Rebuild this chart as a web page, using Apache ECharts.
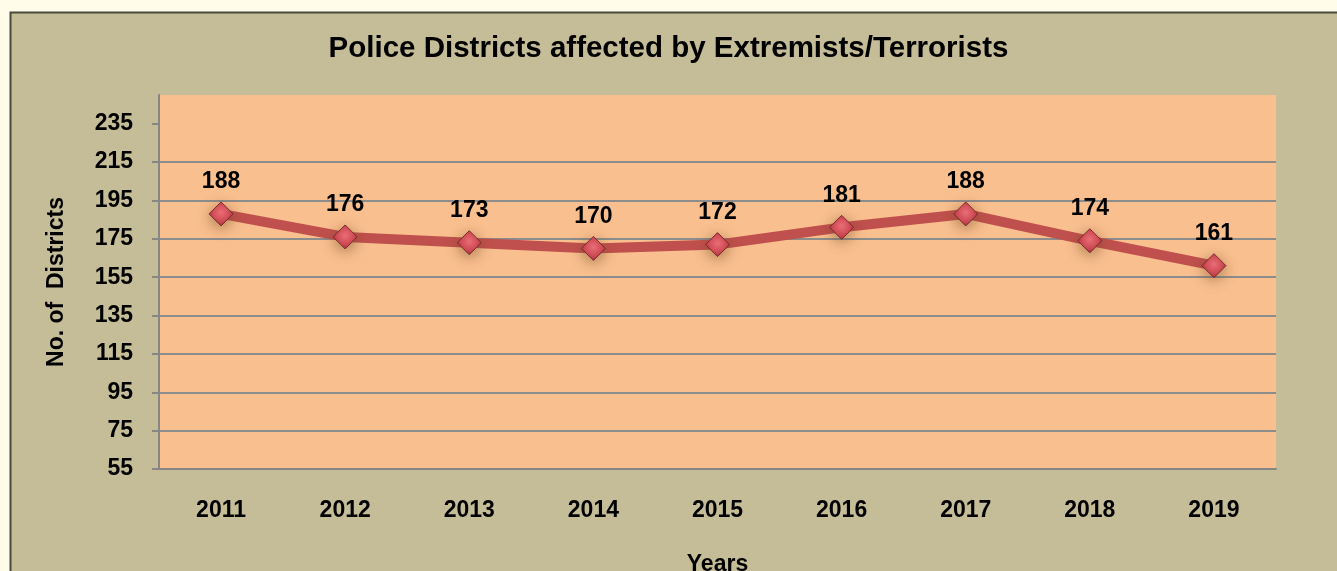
<!DOCTYPE html>
<html>
<head>
<meta charset="utf-8">
<script src="https://cdn.jsdelivr.net/npm/echarts@6/dist/echarts.min.js"></script>
<style>
html, body { margin: 0; padding: 0; background: #fffde9; }
#chart { width: 1337px; height: 571px; }
</style>
</head>
<body>
<div id="chart"></div>
<script>
// data
const years = ['2011', '2012', '2013', '2014', '2015', '2016', '2017', '2018', '2019']
const districts = [188, 176, 173, 170, 172, 181, 188, 174, 161]
const yTicks = [55, 75, 95, 115, 135, 155, 175, 195, 215, 235]

const myChart = echarts.init(document.getElementById('chart'))
const font = '"Liberation Sans", Arial, sans-serif'

const option = {
    backgroundColor: '#fffde9',
    textStyle: { fontFamily: font },
    graphic: [
        { // outer chart frame
            type: 'rect',
            z: -10,
            shape: { x: 10.5, y: 12.5, width: 1340, height: 600 },
            style: { fill: '#c4bd97', stroke: '#4a4a3c', lineWidth: 2 }
        }
    ],
    title: {
        text: 'Police Districts affected by Extremists/Terrorists',
        left: 'center',
        top: 29,
        textStyle: { fontSize: 29.5, fontWeight: 'bold', color: '#000', fontFamily: font }
    },
    grid: {
        left: 159,
        right: 61,
        top: 95,
        bottom: 102,
        outerBoundsMode: 'none',
        containLabel: false,
        show: true,
        backgroundColor: '#f9bf8f',
        borderWidth: 0
    },
    xAxis: {
        type: 'category',
        data: years,
        boundaryGap: true,
        name: 'Years',
        nameLocation: 'middle',
        nameGap: 84,
        nameTextStyle: { fontSize: 23, fontWeight: 'bold', color: '#000' },
        axisLine: { lineStyle: { color: '#868686', width: 2 } },
        axisTick: { show: false },
        axisLabel: { margin: 30, fontSize: 23, fontWeight: 'bold', color: '#000' }
    },
    yAxis: {
        type: 'value',
        min: 55,
        max: 250,
        interval: 20,
        name: 'No. of  Districts',
        nameLocation: 'middle',
        nameRotate: 90,
        nameGap: 91,
        nameTextStyle: { fontSize: 23, fontWeight: 'bold', color: '#000' },
        axisLine: { show: true, lineStyle: { color: '#868686', width: 2 } },
        axisTick: { show: true, length: 7, customValues: yTicks, lineStyle: { color: '#868686', width: 2 } },
        axisLabel: { margin: 26, fontSize: 23, fontWeight: 'bold', color: '#000', customValues: yTicks },
        splitLine: { show: true, showMaxLine: false, showMinLine: false, lineStyle: { color: '#8c8c8c', width: 2 } }
    },
    series: [
        {
            type: 'line',
            data: districts,
            lineStyle: { color: '#c0504d', width: 10 },
            symbol: 'diamond',
            symbolSize: 24,
            itemStyle: {
                color: {
                    type: 'radial', x: 0.5, y: 0.45, r: 0.6,
                    colorStops: [
                        { offset: 0, color: '#f0707c' },
                        { offset: 0.6, color: '#d04a55' },
                        { offset: 1, color: '#8e2a33' }
                    ]
                },
                borderColor: '#7a2a30',
                borderWidth: 1,
                shadowBlur: 14,
                shadowColor: 'rgba(110, 70, 30, 0.6)',
                shadowOffsetY: 3
            },
            label: {
                show: true,
                position: 'top',
                distance: 8,
                fontSize: 23,
                fontWeight: 'bold',
                color: '#000'
            },
            z: 5
        }
    ]
}

myChart.setOption(option)
window.onresize = myChart.resize
</script>
</body>
</html>
